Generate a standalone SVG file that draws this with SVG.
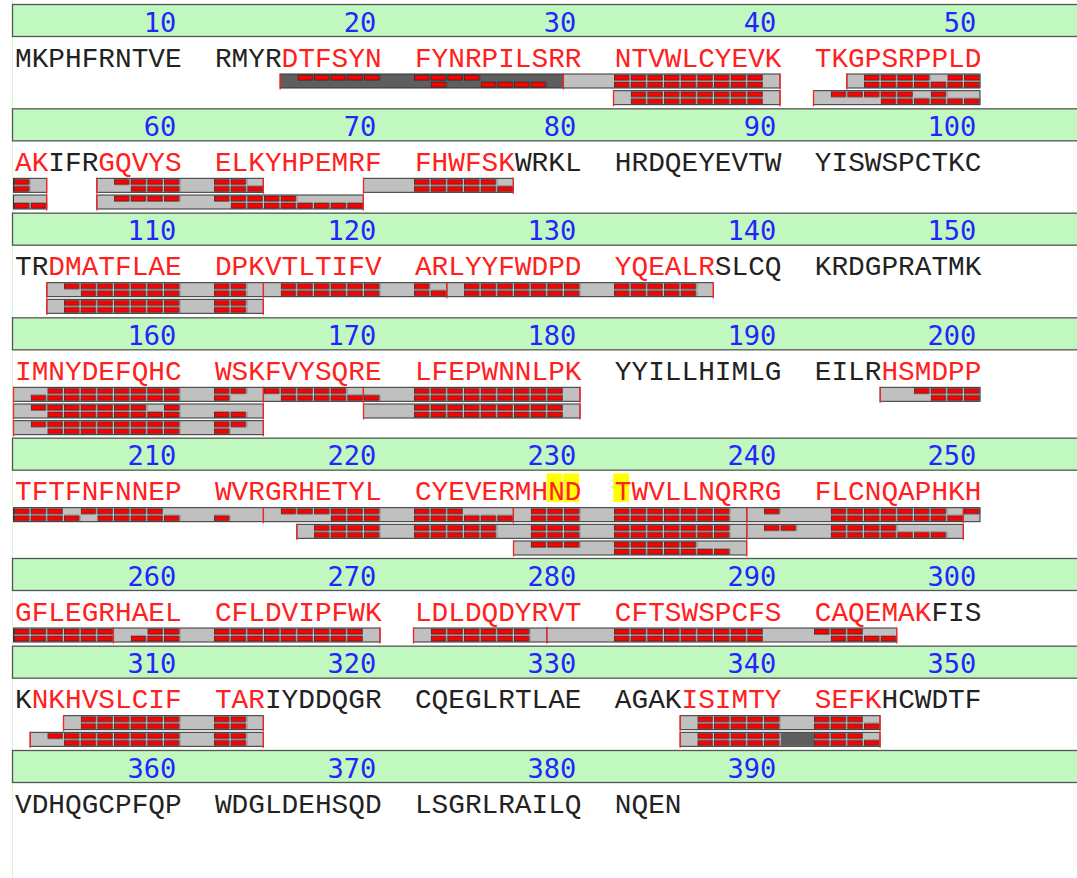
<svg xmlns="http://www.w3.org/2000/svg" width="1077" height="878" viewBox="0 0 1077 878">
<defs>
<pattern id="bx" patternUnits="userSpaceOnUse" x="14" y="0" width="16.6667" height="7">
<rect x="0.5" y="1.1" width="14.4" height="5" fill="#ff0000" stroke="#2a2a2a" stroke-width="0.8"/>
</pattern>
<style>
.band{fill:#c0f8c0;stroke:#555;stroke-width:1.3}
.num{font-family:"DejaVu Sans Mono",monospace;font-size:27px;fill:#2424ff;text-anchor:end}
.seq{font-family:"Liberation Mono",monospace;font-size:27.78px;fill:#222}
.r{fill:#ff2020}
.p{fill:#c0c0c0;stroke:#333;stroke-width:1}
.d{fill:#5e5e5e}
.b{fill:url(#bx)}
.t{stroke:#ff2020;stroke-width:1.3;fill:none}
.hl{fill:#ffff00}
</style>
</defs>
<rect width="1077" height="878" fill="#fff"/>
<line x1="12.5" y1="0" x2="12.5" y2="878" stroke="#d6f5d6"/>

<g id="row1">
<rect class="band" x="12.5" y="4.5" width="1070" height="32"/>
<text class="num" x="176.2" y="31.5">10</text><text class="num" x="376.2" y="31.5">20</text><text class="num" x="576.2" y="31.5">30</text><text class="num" x="776.2" y="31.5">40</text><text class="num" x="976.2" y="31.5">50</text>
<text class="seq" x="15" y="66.5" xml:space="preserve">MKPHFRNTVE  RMYR<tspan class="r">DTFSYN  FYNRPILSRR  NTVWLCYEVK  TKGPSRPPLD</tspan></text>
<g transform="translate(0,74)">
<rect class="p d" x="280.17" y="0" width="283.17" height="14"/>
<rect class="p" x="563.5" y="0" width="216.5" height="14"/>
<rect class="p" x="846.83" y="0" width="133.17" height="14"/>
<rect class="b" x="297.33" y="0" width="83.33" height="7"/><rect class="b" x="414" y="0" width="66.67" height="7"/><rect class="b" x="614" y="0" width="150" height="7"/><rect class="b" x="864" y="0" width="66.67" height="7"/><rect class="b" x="947.33" y="0" width="33.33" height="7"/>
<rect class="b" x="430.67" y="7" width="16.67" height="7"/><rect class="b" x="480.67" y="7" width="66.67" height="7"/><rect class="b" x="614" y="7" width="150" height="7"/><rect class="b" x="864" y="7" width="116.67" height="7"/>
<path class="t" d="M280.17 -0.5v16M563.4 -0.5v16M780 -0.5v16M846.83 -0.5v16"/>
</g>
<g transform="translate(0,90.67)">
<rect class="p" x="613.5" y="0" width="166.5" height="14"/>
<rect class="p" x="813.5" y="0" width="166.5" height="14"/>
<rect class="b" x="630.67" y="0" width="133.33" height="7"/><rect class="b" x="830.67" y="0" width="83.33" height="7"/><rect class="b" x="930.67" y="0" width="16.67" height="7"/>
<rect class="b" x="630.67" y="7" width="133.33" height="7"/><rect class="b" x="880.67" y="7" width="100" height="7"/>
<path class="t" d="M613.5 -0.5v16M780 -0.5v16M813.5 -0.5v16"/>
</g>
</g>

<g id="row2">
<rect class="band" x="12.5" y="108.83" width="1070" height="32"/>
<text class="num" x="176.2" y="135.8">60</text><text class="num" x="376.2" y="135.8">70</text><text class="num" x="576.2" y="135.8">80</text><text class="num" x="776.2" y="135.8">90</text><text class="num" x="976.2" y="135.8">100</text>
<text class="seq" x="15" y="170.8" xml:space="preserve"><tspan class="r">AK</tspan>IFR<tspan class="r">GQVYS  ELKYHPEMRF  FHWFSK</tspan>WRKL  HRDQEYEVTW  YISWSPCTKC</text>
<g transform="translate(0,178.33)">
<rect class="p" x="13.5" y="0" width="33.17" height="14"/>
<rect class="p" x="96.83" y="0" width="166.5" height="14"/>
<rect class="p" x="363.5" y="0" width="149.83" height="14"/>
<rect class="b" x="14" y="0" width="16.67" height="7"/><rect class="b" x="114" y="0" width="66.67" height="7"/><rect class="b" x="214" y="0" width="33.33" height="7"/><rect class="b" x="414" y="0" width="83.33" height="7"/>
<rect class="b" x="14" y="7" width="16.67" height="7"/><rect class="b" x="130.67" y="7" width="50" height="7"/><rect class="b" x="214" y="7" width="50" height="7"/><rect class="b" x="414" y="7" width="100" height="7"/>
<path class="t" d="M46.67 -0.5v16M96.83 -0.5v16M263.33 -0.5v16M363.5 -0.5v16M513.33 -0.5v16"/>
</g>
<g transform="translate(0,195)">
<rect class="p" x="13.5" y="0" width="33.17" height="14"/>
<rect class="p" x="96.83" y="0" width="266.5" height="14"/>
<rect class="b" x="114" y="0" width="66.67" height="7"/><rect class="b" x="214" y="0" width="83.33" height="7"/>
<rect class="b" x="14" y="7" width="33.33" height="7"/><rect class="b" x="230.67" y="7" width="133.33" height="7"/>
<path class="t" d="M46.67 -0.5v16M96.83 -0.5v16M363.33 -0.5v16"/>
</g>
</g>

<g id="row3">
<rect class="band" x="12.5" y="213.17" width="1070" height="32"/>
<text class="num" x="176.2" y="240.2">110</text><text class="num" x="376.2" y="240.2">120</text><text class="num" x="576.2" y="240.2">130</text><text class="num" x="776.2" y="240.2">140</text><text class="num" x="976.2" y="240.2">150</text>
<text class="seq" x="15" y="275.2" xml:space="preserve">TR<tspan class="r">DMATFLAE  DPKVTLTIFV  ARLYYFWDPD  YQEALR</tspan>SLCQ  KRDGPRATMK</text>
<g transform="translate(0,282.67)">
<rect class="p" x="46.83" y="0" width="216.5" height="14"/>
<rect class="p" x="263.5" y="0" width="183.17" height="14"/>
<rect class="p" x="446.83" y="0" width="266.5" height="14"/>
<rect class="b" x="64" y="0" width="116.67" height="7"/><rect class="b" x="214" y="0" width="33.33" height="7"/><rect class="b" x="280.67" y="0" width="100" height="7"/><rect class="b" x="414" y="0" width="16.67" height="7"/><rect class="b" x="464" y="0" width="116.67" height="7"/><rect class="b" x="614" y="0" width="83.33" height="7"/>
<rect class="b" x="80.67" y="7" width="100" height="7"/><rect class="b" x="214" y="7" width="33.33" height="7"/><rect class="b" x="280.67" y="7" width="100" height="7"/><rect class="b" x="414" y="7" width="33.33" height="7"/><rect class="b" x="464" y="7" width="116.67" height="7"/><rect class="b" x="614" y="7" width="83.33" height="7"/>
<path class="t" d="M46.83 -0.5v16M263.4 -0.5v16M446.75 -0.5v16M713.33 -0.5v16"/>
</g>
<g transform="translate(0,299.33)">
<rect class="p" x="46.83" y="0" width="216.5" height="14"/>
<rect class="b" x="64" y="0" width="116.67" height="7"/><rect class="b" x="214" y="0" width="33.33" height="7"/>
<rect class="b" x="64" y="7" width="116.67" height="7"/><rect class="b" x="214" y="7" width="33.33" height="7"/>
<path class="t" d="M46.83 -0.5v16M263.33 -0.5v16"/>
</g>
</g>

<g id="row4">
<rect class="band" x="12.5" y="317.83" width="1070" height="32"/>
<text class="num" x="176.2" y="344.8">160</text><text class="num" x="376.2" y="344.8">170</text><text class="num" x="576.2" y="344.8">180</text><text class="num" x="776.2" y="344.8">190</text><text class="num" x="976.2" y="344.8">200</text>
<text class="seq" x="15" y="379.8" xml:space="preserve"><tspan class="r">IMNYDEFQHC  WSKFVYSQRE  LFEPWNNLPK</tspan>  YYILLHIMLG  EILR<tspan class="r">HSMDPP</tspan></text>
<g transform="translate(0,387.33)">
<rect class="p" x="13.5" y="0" width="249.83" height="14"/>
<rect class="p" x="263.5" y="0" width="99.83" height="14"/>
<rect class="p" x="363.5" y="0" width="216.5" height="14"/>
<rect class="p" x="880.17" y="0" width="99.83" height="14"/>
<rect class="b" x="47.33" y="0" width="133.33" height="7"/><rect class="b" x="214" y="0" width="33.33" height="7"/><rect class="b" x="264" y="0" width="83.33" height="7"/><rect class="b" x="414" y="0" width="150" height="7"/><rect class="b" x="914" y="0" width="66.67" height="7"/>
<rect class="b" x="30.67" y="7" width="150" height="7"/><rect class="b" x="214" y="7" width="16.67" height="7"/><rect class="b" x="280.67" y="7" width="83.33" height="7"/><rect class="b" x="364" y="7" width="16.67" height="7"/><rect class="b" x="414" y="7" width="150" height="7"/><rect class="b" x="930.67" y="7" width="50" height="7"/>
<path class="t" d="M13.5 -0.5v16M263.4 -0.5v16M363.4 -0.5v16M580 -0.5v16M880.17 -0.5v16"/>
</g>
<g transform="translate(0,404)">
<rect class="p" x="13.5" y="0" width="249.83" height="14"/>
<rect class="p" x="363.5" y="0" width="216.5" height="14"/>
<rect class="b" x="30.67" y="0" width="116.67" height="7"/><rect class="b" x="164" y="0" width="16.67" height="7"/><rect class="b" x="414" y="0" width="150" height="7"/>
<rect class="b" x="47.33" y="7" width="133.33" height="7"/><rect class="b" x="214" y="7" width="33.33" height="7"/><rect class="b" x="414" y="7" width="150" height="7"/>
<path class="t" d="M13.5 -0.5v16M263.33 -0.5v16M363.5 -0.5v16M580 -0.5v16"/>
</g>
<g transform="translate(0,420.67)">
<rect class="p" x="13.5" y="0" width="249.83" height="14"/>
<rect class="b" x="30.67" y="0" width="150" height="7"/><rect class="b" x="214" y="0" width="33.33" height="7"/>
<rect class="b" x="47.33" y="7" width="133.33" height="7"/><rect class="b" x="214" y="7" width="16.67" height="7"/>
<path class="t" d="M13.5 -0.5v16M263.33 -0.5v16"/>
</g>
</g>

<g id="row5">
<rect class="band" x="12.5" y="438.17" width="1070" height="32"/>
<text class="num" x="176.2" y="465.2">210</text><text class="num" x="376.2" y="465.2">220</text><text class="num" x="576.2" y="465.2">230</text><text class="num" x="776.2" y="465.2">240</text><text class="num" x="976.2" y="465.2">250</text>
<rect class="hl" x="546.6" y="473.4" width="15.7" height="28.5"/><rect class="hl" x="563.3" y="473.4" width="15.7" height="28.5"/><rect class="hl" x="613.3" y="473.4" width="15.7" height="28.5"/>
<text class="seq r" x="15" y="500.2" xml:space="preserve">TFTFNFNNEP  WVRGRHETYL  CYEVERMHND  TWVLLNQRRG  FLCNQAPHKH</text>
<g transform="translate(0,507.67)">
<rect class="p" x="13.5" y="0" width="249.83" height="14"/>
<rect class="p" x="263.5" y="0" width="249.83" height="14"/>
<rect class="p" x="513.5" y="0" width="233.17" height="14"/>
<rect class="p" x="746.83" y="0" width="216.5" height="14"/>
<rect class="p" x="963.5" y="0" width="16.5" height="14"/>
<rect class="b" x="14" y="0" width="50" height="7"/><rect class="b" x="80.67" y="0" width="83.33" height="7"/><rect class="b" x="280.67" y="0" width="100" height="7"/><rect class="b" x="414" y="0" width="50" height="7"/><rect class="b" x="530.67" y="0" width="50" height="7"/><rect class="b" x="614" y="0" width="116.67" height="7"/><rect class="b" x="764" y="0" width="16.67" height="7"/><rect class="b" x="830.67" y="0" width="116.67" height="7"/><rect class="b" x="964" y="0" width="16.67" height="7"/>
<rect class="b" x="14" y="7" width="66.67" height="7"/><rect class="b" x="97.33" y="7" width="83.33" height="7"/><rect class="b" x="214" y="7" width="16.67" height="7"/><rect class="b" x="330.67" y="7" width="50" height="7"/><rect class="b" x="414" y="7" width="100" height="7"/><rect class="b" x="530.67" y="7" width="50" height="7"/><rect class="b" x="614" y="7" width="116.67" height="7"/><rect class="b" x="830.67" y="7" width="133.33" height="7"/>
<path class="t" d="M263.4 -0.5v16M513.4 -0.5v16M746.75 -0.5v16M963.4 -0.5v16"/>
</g>
<g transform="translate(0,524.33)">
<rect class="p" x="296.83" y="0" width="449.83" height="14"/>
<rect class="p" x="746.83" y="0" width="216.5" height="14"/>
<rect class="b" x="314" y="0" width="66.67" height="7"/><rect class="b" x="414" y="0" width="83.33" height="7"/><rect class="b" x="530.67" y="0" width="50" height="7"/><rect class="b" x="614" y="0" width="116.67" height="7"/><rect class="b" x="764" y="0" width="33.33" height="7"/><rect class="b" x="830.67" y="0" width="66.67" height="7"/>
<rect class="b" x="314" y="7" width="66.67" height="7"/><rect class="b" x="414" y="7" width="83.33" height="7"/><rect class="b" x="530.67" y="7" width="50" height="7"/><rect class="b" x="614" y="7" width="116.67" height="7"/><rect class="b" x="830.67" y="7" width="116.67" height="7"/>
<path class="t" d="M296.83 -0.5v16M746.75 -0.5v16M963.33 -0.5v16"/>
</g>
<g transform="translate(0,541)">
<rect class="p" x="513.5" y="0" width="233.17" height="14"/>
<rect class="b" x="530.67" y="0" width="50" height="7"/><rect class="b" x="614" y="0" width="83.33" height="7"/>
<rect class="b" x="614" y="7" width="116.67" height="7"/>
<path class="t" d="M513.5 -0.5v16M746.67 -0.5v16"/>
</g>
</g>

<g id="row6">
<rect class="band" x="12.5" y="558.5" width="1070" height="32"/>
<text class="num" x="176.2" y="585.5">260</text><text class="num" x="376.2" y="585.5">270</text><text class="num" x="576.2" y="585.5">280</text><text class="num" x="776.2" y="585.5">290</text><text class="num" x="976.2" y="585.5">300</text>
<text class="seq" x="15" y="620.5" xml:space="preserve"><tspan class="r">GFLEGRHAEL  CFLDVIPFWK  LDLDQDYRVT  CFTSWSPCFS  CAQEMAK</tspan>FIS</text>
<g transform="translate(0,628)">
<rect class="p" x="13.5" y="0" width="99.83" height="14"/>
<rect class="p" x="113.5" y="0" width="266.5" height="14"/>
<rect class="p" x="413.5" y="0" width="134.67" height="14"/>
<rect class="p" x="546.83" y="0" width="349.83" height="14"/>
<rect class="b" x="14" y="0" width="100" height="7"/><rect class="b" x="147.33" y="0" width="33.33" height="7"/><rect class="b" x="214" y="0" width="150" height="7"/><rect class="b" x="430.67" y="0" width="100" height="7"/><rect class="b" x="614" y="0" width="150" height="7"/><rect class="b" x="814" y="0" width="50" height="7"/>
<rect class="b" x="14" y="7" width="100" height="7"/><rect class="b" x="130.67" y="7" width="50" height="7"/><rect class="b" x="214" y="7" width="150" height="7"/><rect class="b" x="430.67" y="7" width="100" height="7"/><rect class="b" x="614" y="7" width="150" height="7"/><rect class="b" x="830.67" y="7" width="66.67" height="7"/>
<path class="t" d="M113.4 -0.5v16M380 -0.5v16M413.5 -0.5v16M546.8 -0.5v16M896.67 -0.5v16"/>
</g>
</g>

<g id="row7">
<rect class="band" x="12.5" y="646.17" width="1070" height="32"/>
<text class="num" x="176.2" y="673.2">310</text><text class="num" x="376.2" y="673.2">320</text><text class="num" x="576.2" y="673.2">330</text><text class="num" x="776.2" y="673.2">340</text><text class="num" x="976.2" y="673.2">350</text>
<text class="seq" x="15" y="708.2" xml:space="preserve">K<tspan class="r">NKHVSLCIF  TAR</tspan>IYDDQGR  CQEGLRTLAE  AGAK<tspan class="r">ISIMTY  SEFK</tspan>HCWDTF</text>
<g transform="translate(0,715.67)">
<rect class="p" x="63.5" y="0" width="199.83" height="14"/>
<rect class="p" x="680.17" y="0" width="199.83" height="14"/>
<rect class="b" x="80.67" y="0" width="100" height="7"/><rect class="b" x="214" y="0" width="33.33" height="7"/><rect class="b" x="697.33" y="0" width="83.33" height="7"/><rect class="b" x="814" y="0" width="50" height="7"/>
<rect class="b" x="80.67" y="7" width="100" height="7"/><rect class="b" x="214" y="7" width="33.33" height="7"/><rect class="b" x="697.33" y="7" width="83.33" height="7"/><rect class="b" x="814" y="7" width="66.67" height="7"/>
<path class="t" d="M63.5 -0.5v16M263.33 -0.5v16M680.17 -0.5v16M880 -0.5v16"/>
</g>
<g transform="translate(0,732.33)">
<rect class="p" x="30.17" y="0" width="233.17" height="14"/>
<rect class="p" x="680.17" y="0" width="199.83" height="14"/>
<rect class="d" x="781" y="0.5" width="33" height="13"/>
<rect class="b" x="47.33" y="0" width="133.33" height="7"/><rect class="b" x="214" y="0" width="33.33" height="7"/><rect class="b" x="697.33" y="0" width="83.33" height="7"/><rect class="b" x="814" y="0" width="50" height="7"/>
<rect class="b" x="64" y="7" width="116.67" height="7"/><rect class="b" x="214" y="7" width="33.33" height="7"/><rect class="b" x="697.33" y="7" width="83.33" height="7"/><rect class="b" x="814" y="7" width="66.67" height="7"/>
<path class="t" d="M30.17 -0.5v16M263.33 -0.5v16M680.17 -0.5v16M880 -0.5v16"/>
</g>
</g>

<g id="row8">
<rect class="band" x="12.5" y="750.5" width="1070" height="32"/>
<text class="num" x="176.2" y="777.5">360</text><text class="num" x="376.2" y="777.5">370</text><text class="num" x="576.2" y="777.5">380</text><text class="num" x="776.2" y="777.5">390</text>
<text class="seq" x="15" y="812.5" xml:space="preserve">VDHQGCPFQP  WDGLDEHSQD  LSGRLRAILQ  NQEN</text>
</g>
</svg>
